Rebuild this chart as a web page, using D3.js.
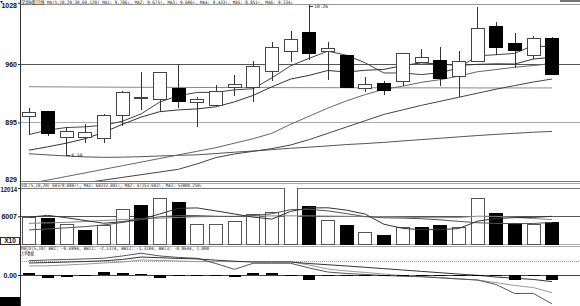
<!DOCTYPE html>
<html>
<head>
<meta charset="utf-8">
<script src="https://cdn.jsdelivr.net/npm/d3@7"></script>
<style>
  body { margin: 0; background: #fff; }
  svg { display: block; }
  .crisp { shape-rendering: crispEdges; }
  .lbl { font-family: "Liberation Sans Narrow", "Liberation Sans", sans-serif; font-weight: bold; font-size: 7px; fill: #111; }
  .ttl { font-family: "DejaVu Sans Mono", "Noto Sans CJK SC", monospace; font-size: 4.6px; fill: #222; }
</style>
</head>
<body>
<script>
// chart area
var svgWidth = 580;
var svgHeight = 306;

// --- data (prices in yuan) ---
var days = d3.range(1, 30);
var openP  = [9.017, 9.070, 8.785, 8.785, 8.770, 9.025, 9.225, 9.204, 9.330, 9.174, 9.144, 9.339, 9.339, 9.518, 9.734, 9.951, 9.734, 9.690, 9.331, 9.384, 9.406, 9.622, 9.637, 9.466, 9.630, 10.018, 9.824, 9.690, 9.884];
var highP  = [9.110, 9.080, 8.905, 8.928, 9.040, 9.300, 9.510, 9.510, 9.600, 9.234, 9.368, 9.473, 9.630, 9.839, 9.966, 10.260, 9.839, 9.695, 9.457, 9.413, 9.725, 9.771, 9.787, 9.742, 10.228, 10.071, 9.944, 9.914, 9.899];
var lowP   = [8.816, 8.800, 8.580, 8.718, 8.726, 8.913, 9.092, 9.062, 9.107, 8.900, 9.140, 9.249, 9.174, 9.413, 9.622, 9.645, 9.421, 9.335, 9.286, 9.256, 9.353, 9.608, 9.361, 9.234, 9.625, 9.704, 9.555, 9.653, 9.484];
var closeP = [9.062, 8.823, 8.846, 8.838, 9.025, 9.286, 9.230, 9.510, 9.182, 9.211, 9.294, 9.368, 9.570, 9.787, 9.877, 9.712, 9.771, 9.339, 9.368, 9.309, 9.720, 9.675, 9.443, 9.630, 9.989, 9.779, 9.749, 9.884, 9.488];

var ma5   = [8.816, 8.866, 8.894, 8.902, 8.919, 8.964, 9.045, 9.178, 9.247, 9.284, 9.285, 9.313, 9.325, 9.446, 9.579, 9.663, 9.743, 9.697, 9.613, 9.500, 9.501, 9.482, 9.503, 9.555, 9.691, 9.703, 9.718, 9.806, 9.786];
var ma10  = [8.643, 8.680, 8.720, 8.770, 8.840, 8.930, 9.010, 9.070, 9.090, 9.101, 9.125, 9.179, 9.251, 9.346, 9.432, 9.474, 9.528, 9.511, 9.530, 9.540, 9.582, 9.613, 9.600, 9.584, 9.596, 9.602, 9.600, 9.655, 9.675];
var ma20  = [8.270, 8.310, 8.350, 8.390, 8.430, 8.470, 8.510, 8.550, 8.590, 8.630, 8.670, 8.720, 8.770, 8.830, 8.930, 9.020, 9.110, 9.190, 9.260, 9.320, 9.353, 9.396, 9.426, 9.465, 9.514, 9.538, 9.564, 9.583, 9.606];
var ma30  = [8.200, 8.230, 8.250, 8.280, 8.310, 8.340, 8.370, 8.400, 8.430, 8.490, 8.560, 8.600, 8.630, 8.660, 8.700, 8.760, 8.830, 8.900, 8.970, 9.040, 9.090, 9.140, 9.185, 9.230, 9.275, 9.320, 9.360, 9.400, 9.433];
var ma60  = [8.603, 8.590, 8.578, 8.568, 8.563, 8.565, 8.570, 8.578, 8.585, 8.591, 8.605, 8.620, 8.633, 8.648, 8.664, 8.676, 8.690, 8.705, 8.716, 8.729, 8.745, 8.760, 8.775, 8.790, 8.805, 8.818, 8.830, 8.842, 8.851];
var ma120 = [9.348, 9.346, 9.345, 9.344, 9.343, 9.342, 9.341, 9.340, 9.340, 9.339, 9.339, 9.338, 9.338, 9.338, 9.337, 9.337, 9.337, 9.336, 9.336, 9.336, 9.335, 9.335, 9.335, 9.335, 9.334, 9.334, 9.334, 9.334, 9.334];

var volume  = [5784, 5571, 4359, 2934, 3934, 7485, 8250, 9824, 8973, 4359, 4359, 4933, 6485, 6847, 12600, 8038, 5061, 3998, 2594, 1871, 3657, 3657, 4083, 3657, 9676, 6634, 4508, 4359, 4784];
var volMa5  = [5800, 6200, 5700, 5100, 4516, 4857, 5392, 6485, 7693, 7778, 7153, 6490, 5822, 5397, 7045, 7781, 7806, 7309, 6458, 4312, 3436, 3155, 3172, 3385, 4946, 5541, 5712, 5767, 5992];
var volMa10 = [3100, 3300, 3550, 3800, 4150, 4700, 5300, 5900, 6150, 6147, 6005, 5941, 6154, 6545, 7412, 7467, 7148, 6565, 5927, 5679, 5608, 5481, 5241, 4922, 4629, 4489, 4434, 4470, 4689];
var volMa20 = [4500, 4600, 4700, 4900, 5100, 5300, 5450, 5600, 5750, 5900, 5950, 6000, 6050, 6080, 6100, 6080, 6050, 6000, 5950, 5913, 5807, 5711, 5697, 5733, 6020, 5978, 5791, 5517, 5308];

var macdHist = [0.12, -0.25, -0.15, -0.05, 0.22, 0.12, 0.08, -0.25, -0.02, -0.07, -0.10, -0.17, 0.12, 0.12, 0.02, -0.35, -0.07, -0.07, 0.03, -0.07, -0.05, -0.10, -0.10, -0.05, -0.07, -0.10, -0.35, -0.04, -0.35];
var dif  = [0.89, 0.92, 0.96, 1.00, 1.05, 1.15, 1.33, 1.28, 1.23, 1.19, 1.10, 1.02, 0.96, 0.96, 0.96, 0.85, 0.76, 0.67, 0.57, 0.47, 0.37, 0.27, 0.17, 0.07, -0.02, -0.15, -0.24, -0.33, -0.49];
var dea1 = [1.06, 1.11, 1.15, 1.19, 1.24, 1.41, 1.61, 1.41, 1.30, 1.24, 0.85, 0.42, 0.87, 0.87, 0.87, 0.52, 0.22, 0.11, 0.04, -0.04, -0.09, -0.13, -0.21, -0.30, -0.37, -0.70, -1.37, -1.36, -2.14];
var dea2 = [0.67, 0.68, 0.74, 0.81, 0.89, 0.96, 1.11, 1.07, 1.04, 0.99, 0.99, 0.99, 0.99, 0.99, 0.99, 0.74, 0.44, 0.30, 0.19, 0.07, -0.04, -0.11, -0.19, -0.28, -0.37, -0.56, -0.78, -0.93, -1.31];
var dea3Level = 1.0;

var priceTicks = [8.29, 8.95, 9.60, 10.28];
var priceTickLabels = ["829", "895", "960", "1028"];
var volTicks = [6007, 12014];

var titleMain = "深圳B股日线 MA(5,10,20,30,60,120) MA1: 9.786\u2193, MA2: 9.675\u2191, MA3: 9.606\u2191, MA4: 9.433\u2191, MA5: 8.851\u2191, MA6: 9.334\u2193";
var titleVol = "VOL(5,10,20) 60379.0807\u2191, MA1: 60232.801\u2191, MA2: 47153.602\u2191, MA3: 53000.250\u2193";
var titleMacd = "MACD(5,10) BBI: -0.4894, BBI1: -2.1374, BBI2: -1.3104, BBI3: -0.9644, 1.000";
var subMacd = "大单数据";

// --- svg ---
var svg = d3.select("body")
  .append("svg")
  .attr("width", svgWidth)
  .attr("height", svgHeight);

svg.append("rect").attr("width", svgWidth).attr("height", svgHeight).attr("fill", "#fff");

var axisX = 20;
var bodyW = 13.5;

var xScale = d3.scaleLinear().domain([1, 29]).range([29, 552]);
var yPrice = d3.scaleLinear().domain([8.95, 9.60]).range([122.5, 64]);
var yVol = d3.scaleLinear().domain([0, 12014]).range([244.5, 188]);
var yMacd = d3.scaleLinear().domain([0, 1]).range([275, 261.5]);

function hline(y, color, width, dash) {
  svg.append("line")
    .attr("class", "crisp")
    .attr("x1", axisX).attr("x2", svgWidth)
    .attr("y1", y).attr("y2", y)
    .attr("stroke", color)
    .attr("stroke-width", width || 1)
    .attr("stroke-dasharray", dash || null);
}

function title(x, y, w, str) {
  svg.append("text")
    .attr("class", "ttl")
    .attr("x", x).attr("y", y)
    .attr("textLength", w)
    .attr("lengthAdjust", "spacingAndGlyphs")
    .text(str);
}

// keep axis labels inside the 20px gutter
function fitLabels(sel) {
  sel.each(function() {
    var w = this.getComputedTextLength();
    if (w > 16.5) {
      d3.select(this).attr("textLength", 16.5).attr("lengthAdjust", "spacingAndGlyphs");
    }
  });
}

// ===== main panel =====
svg.append("clipPath").attr("id", "mainClip")
  .append("rect").attr("x", axisX).attr("y", 5).attr("width", svgWidth - axisX).attr("height", 176);

hline(4.5, "#999", 1);
hline(yPrice(9.60), "#555", 1);
hline(yPrice(8.95), "#aaa", 1.5);

var lineFn = function(arr, sc) {
  return d3.line()
    .x(function(d, i) { return xScale(days[i]); })
    .y(function(d) { return sc(d); })(arr);
};

var maLines = [
  { data: ma120, color: "#888" },
  { data: ma60, color: "#555" },
  { data: ma30, color: "#444" },
  { data: ma20, color: "#666" },
  { data: ma10, color: "#333" },
  { data: ma5, color: "#444" }
];
var maG = svg.append("g").attr("clip-path", "url(#mainClip)");
maLines.forEach(function(m) {
  maG.append("path")
    .attr("d", lineFn(m.data, yPrice))
    .attr("fill", "none")
    .attr("stroke", m.color)
    .attr("stroke-width", 1);
});

// candles
var candles = svg.append("g").selectAll("g")
  .data(days)
  .enter()
  .append("g");

candles.append("line")
  .attr("class", "crisp")
  .attr("x1", function(d) { return Math.round(xScale(d)) + 0.5; })
  .attr("x2", function(d) { return Math.round(xScale(d)) + 0.5; })
  .attr("y1", function(d, i) { return yPrice(highP[i]); })
  .attr("y2", function(d, i) { return yPrice(lowP[i]); })
  .attr("stroke", "#333");

candles.append("rect")
  .attr("class", "crisp")
  .attr("x", function(d) { return Math.round(xScale(d) - bodyW / 2) + 0.5; })
  .attr("width", bodyW - 1)
  .attr("y", function(d, i) { return yPrice(Math.max(openP[i], closeP[i])); })
  .attr("height", function(d, i) {
    return Math.max(1, Math.abs(yPrice(openP[i]) - yPrice(closeP[i])));
  })
  .attr("fill", function(d, i) { return closeP[i] >= openP[i] ? "#fff" : "#000"; })
  .attr("stroke", function(d, i) { return closeP[i] >= openP[i] ? "#444" : "#000"; });

// high / low markers
var hiIdx = d3.maxIndex(highP);
var loIdx = d3.minIndex(lowP);
svg.append("line").attr("class", "crisp")
  .attr("x1", xScale(days[hiIdx]) + 1).attr("x2", xScale(days[hiIdx]) + 4)
  .attr("y1", yPrice(highP[hiIdx]) + 1.5).attr("y2", yPrice(highP[hiIdx]) + 1.5)
  .attr("stroke", "#333");
svg.append("text")
  .attr("class", "ttl")
  .attr("x", xScale(days[hiIdx]) + 5).attr("y", yPrice(highP[hiIdx]) + 3.5)
  .text(d3.format(".2f")(highP[hiIdx]));
svg.append("line").attr("class", "crisp")
  .attr("x1", xScale(days[loIdx])).attr("x2", xScale(days[loIdx]) + 4)
  .attr("y1", yPrice(lowP[loIdx])).attr("y2", yPrice(lowP[loIdx]))
  .attr("stroke", "#333");
svg.append("text")
  .attr("class", "ttl")
  .attr("x", xScale(days[loIdx]) + 5).attr("y", yPrice(lowP[loIdx]) + 1.5)
  .text(d3.format(".2f")(lowP[loIdx]));

// price axis
var priceAxis = d3.axisLeft(yPrice)
  .tickValues(priceTicks)
  .tickSize(2)
  .tickPadding(1)
  .tickFormat(function(d, i) { return priceTickLabels[i]; });
var pAxisG = svg.append("g")
  .attr("transform", "translate(" + axisX + ",0)")
  .call(priceAxis);
pAxisG.select(".domain").remove();
pAxisG.selectAll("text")
  .attr("class", "lbl")
  .attr("y", function(d) {
    if (yPrice(d) < 5) return 5.5 - yPrice(d);
    if (yPrice(d) > 178) return -2.5;
    return 0;
  })
  .call(fitLabels);
pAxisG.selectAll("line").attr("stroke", "#333");

title(21, 4, 272, titleMain);

svg.append("path").attr("d", "M0,1L3,1L1.5,3.5Z").attr("fill", "#222");
svg.append("rect").attr("class", "crisp").attr("x", 560).attr("y", 0).attr("width", 20).attr("height", 1.5).attr("fill", "#777");

// ===== volume panel =====
svg.append("rect").attr("x", 0).attr("y", 182).attr("width", svgWidth).attr("height", 124).attr("fill", "#fff");
hline(181, "#777", 1);
hline(183.5, "#aaa", 1);
hline(188, "#777", 1);
hline(yVol(6007), "#555", 1);
hline(244.5, "#aaa", 1);
hline(246.5, "#aaa", 1);

svg.append("clipPath").attr("id", "volClip")
  .append("rect").attr("x", axisX).attr("y", 188).attr("width", svgWidth - axisX).attr("height", 57);

var volG = svg.append("g").attr("clip-path", "url(#volClip)");
volG.selectAll("rect")
  .data(days)
  .enter()
  .append("rect")
  .attr("class", "crisp")
  .attr("x", function(d) { return Math.round(xScale(d) - bodyW / 2) + 0.5; })
  .attr("width", bodyW - 1)
  .attr("y", function(d, i) { return yVol(volume[i]); })
  .attr("height", function(d, i) { return yVol(0) - yVol(volume[i]); })
  .attr("fill", function(d, i) { return (i === 0 || closeP[i] >= closeP[i - 1]) ? "#fff" : "#000"; })
  .attr("stroke", function(d, i) { return (i === 0 || closeP[i] >= closeP[i - 1]) ? "#555" : "#000"; });

[{ data: volMa20, color: "#888" }, { data: volMa10, color: "#555" }, { data: volMa5, color: "#333" }]
  .forEach(function(m) {
    volG.append("path")
      .attr("d", lineFn(m.data, yVol))
      .attr("fill", "none")
      .attr("stroke", m.color);
  });

var volAxis = d3.axisLeft(yVol).tickValues(volTicks).tickSize(2).tickPadding(1).tickFormat(d3.format("d"));
var vAxisG = svg.append("g").attr("transform", "translate(" + axisX + ",0)").call(volAxis);
vAxisG.select(".domain").remove();
vAxisG.selectAll("text")
  .attr("class", "lbl")
  .attr("y", function(d) { return d === 12014 ? 1.5 : 0; })
  .call(fitLabels);
vAxisG.selectAll("line").attr("stroke", "#333");

title(21, 186.8, 181, titleVol);

svg.append("rect").attr("class", "crisp").attr("x", 0.5).attr("y", 237.5).attr("width", 19).attr("height", 7)
  .attr("fill", "#fff").attr("stroke", "#333");
svg.append("text").attr("class", "lbl").attr("x", 10).attr("y", 243.3).attr("text-anchor", "middle")
  .style("font-size", "6.5px").text("X10");

// ===== macd panel =====
hline(yMacd(dea3Level), "#999", 1, "1,1");
hline(yMacd(0), "#444", 1);

var mG = svg.append("g");
[{ data: dea2, color: "#999" }, { data: dea1, color: "#555" }, { data: dif, color: "#333" }]
  .forEach(function(m) {
    mG.append("path")
      .attr("d", lineFn(m.data, yMacd))
      .attr("fill", "none")
      .attr("stroke", m.color);
  });

mG.selectAll("rect")
  .data(days)
  .enter()
  .append("rect")
  .attr("class", "crisp")
  .attr("x", function(d) { return Math.round(xScale(d) - bodyW / 2) + 0.5; })
  .attr("width", bodyW - 1)
  .attr("y", function(d, i) { return Math.min(yMacd(0), yMacd(macdHist[i])); })
  .attr("height", function(d, i) { return Math.max(1, Math.abs(yMacd(macdHist[i]) - yMacd(0))); })
  .attr("fill", "#000");

var mAxisG = svg.append("g").attr("transform", "translate(" + axisX + ",0)")
  .call(d3.axisLeft(yMacd).tickValues([0]).tickSize(2).tickPadding(1).tickFormat(d3.format(".2f")));
mAxisG.select(".domain").remove();
mAxisG.selectAll("text").attr("class", "lbl");

title(21, 249.5, 188, titleMacd);
title(21, 254.5, 13, subMacd);

svg.append("rect").attr("x", 0).attr("y", 297).attr("width", 20).attr("height", 9).attr("fill", "#000");

// left axis line
svg.append("line").attr("class", "crisp")
  .attr("x1", axisX + 0.5).attr("x2", axisX + 0.5)
  .attr("y1", 0).attr("y2", svgHeight)
  .attr("stroke", "#333");
</script>
</body>
</html>
